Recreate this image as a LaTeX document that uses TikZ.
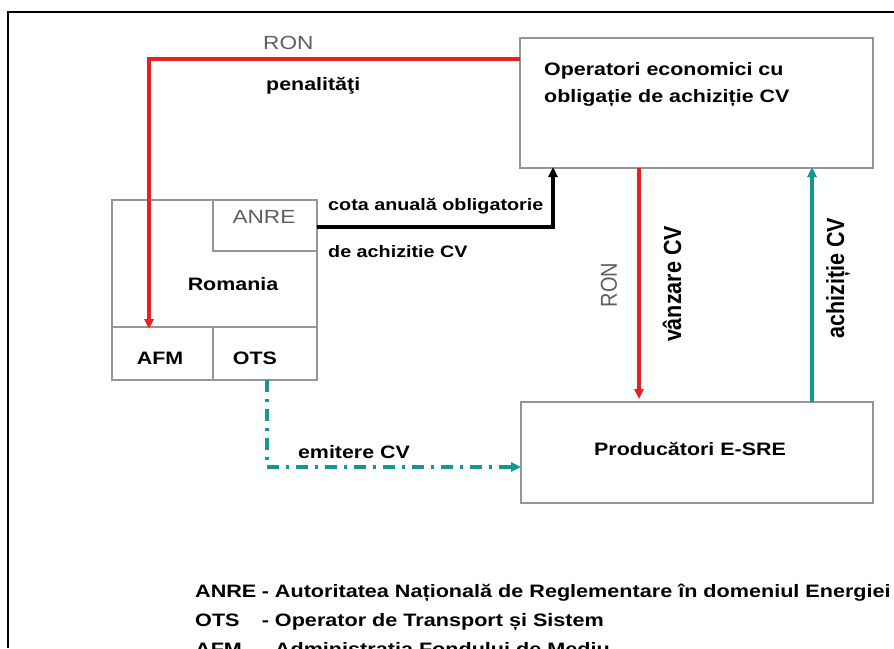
\documentclass[tikz,border=0pt]{standalone}
\usepackage{fontspec}
\usepackage{graphicx}
\setmainfont{Liberation Sans}
\usetikzlibrary{arrows.meta}
\definecolor{ared}{RGB}{232,32,36}
\definecolor{ateal}{RGB}{20,150,150}
\definecolor{boxgray}{RGB}{150,150,150}
\definecolor{txtgray}{RGB}{95,95,95}
\newcommand{\sxx}[1]{\scalebox{1.19}[1]{#1}}
\newcommand{\sxl}[1]{\scalebox{1.2}[1]{#1}}
\newcommand{\syy}[1]{\scalebox{1}[1.15]{#1}}
\newcommand{\abbr}[1]{\makebox[52.5pt][l]{#1}}
\begin{document}
\begin{tikzpicture}[x=1pt,y=-1pt,
  boxnode/.style={draw=boxgray,line width=1.8pt,inner sep=0pt,outer sep=0pt},
  bt/.style={inner sep=0pt,font=\bfseries\fontsize{18}{20}\selectfont},
  lt/.style={inner sep=0pt,font=\bfseries\fontsize{16.6}{20}\selectfont},
  gt/.style={inner sep=0pt,text=txtgray,font=\fontsize{19}{20}\selectfont},
  rbt/.style={inner sep=0pt,rotate=90,font=\bfseries\fontsize{21.5}{22}\selectfont},
  rgt/.style={inner sep=0pt,rotate=90,text=txtgray,font=\fontsize{20}{20}\selectfont},
  legend/.style={inner sep=0pt,anchor=base west,font=\bfseries\fontsize{18}{20}\selectfont},
  redline/.style={draw=ared,line width=3.2pt,-{Triangle[length=10pt,width=9pt]}},
  tealline/.style={draw=ateal,line width=3.2pt,-{Triangle[length=10pt,width=9pt]}},
  blackline/.style={draw=black,line width=3.2pt,-{Triangle[length=10pt,width=9pt]}},
  dashdot/.style={draw=ateal,line width=3.2pt,dash pattern=on 12pt off 7pt on 3pt off 7pt,-{Triangle[length=10pt,width=9pt]}}]
\useasboundingbox (0,0) rectangle (894,648);
\clip (0,0) rectangle (894,648);
\fill[white] (0,0) rectangle (894,648);
% frame
\draw[line width=2.5pt] (8,648) -- (8,12) -- (894,12);
% boxes
\node[boxnode,minimum width=353pt,minimum height=130pt] (op) at (696.5,103) {};
\node[boxnode,minimum width=352pt,minimum height=101pt] (pr) at (697,452.5) {};
\node[boxnode,minimum width=205pt,minimum height=180pt] (ro) at (214.5,290) {};
\node[boxnode,minimum width=104pt,minimum height=51pt] (anre) at (265,225.5) {};
\node[boxnode,minimum width=101pt,minimum height=53pt] (afm) at (162.5,353.5) {};
\node[boxnode,minimum width=104pt,minimum height=53pt] (ots) at (265,353.5) {};
% texts in boxes
\node[bt,anchor=base west] (opt1) at (544,75) {\sxx{Operatori economici cu}};
\node[bt,anchor=base west] (opt2) at (544,102) {\sxx{obligație de achiziție CV}};
\node[bt] (prt) at (690,449) {\sxx{Producători E-SRE}};
\node[gt] (anret) at (264,217) {\sxx{ANRE}};
\node[bt] (rot) at (233,284) {\sxx{Romania}};
\node[bt] (afmt) at (160,358) {\sxx{AFM}};
\node[bt] (otst) at (255,358) {\sxx{OTS}};
% connectors
\coordinate (c1) at (149,59);
\coordinate (c2) at (553,227);
\coordinate (c3) at (639,300);
\coordinate (c4) at (812,300);
\coordinate (c5) at (267,467);
\draw[redline] (op.west |- c1) -- (c1) -- ([yshift=-2pt]afm.north -| c1);
\draw[blackline] (anre.east |- c2) -- (c2) -- ([yshift=1pt]op.south -| c2);
\draw[redline] (op.south -| c3) -- ([yshift=3pt]pr.north -| c3);
\draw[tealline] (pr.north -| c4) -- ([yshift=1pt]op.south -| c4);
\draw[dashdot] (ots.south -| c5) -- (c5) -- (pr.west |- c5);
% connector labels
\node[gt,anchor=base west] (ron1) at (263,49) {\sxx{RON}};
\node[bt,anchor=base west] (pen) at (266,90) {\sxx{penalităţi}};
\node[lt,anchor=base west] (cota1) at (328,210) {\sxx{cota anuală obligatorie}};
\node[lt,anchor=base west] (cota2) at (328,257) {\sxx{de achizitie CV}};
\node[bt] (emit) at (354,452) {\sxx{emitere CV}};
\node[rgt] (ron2) at (609,285) {\syy{RON}};
\node[rbt] (vanz) at (672,284) {\syy{vânzare CV}};
\node[rbt] (achz) at (838,278) {\syy{achiziție CV}};
% legend
\node[legend] (lg1) at (195,597) {\sxl{\abbr{ANRE}\,- Autoritatea Națională de Reglementare în domeniul Energiei}};
\node[legend] (lg2) at (195,626) {\sxl{\abbr{OTS}\,- Operator de Transport și Sistem}};
\node[legend] (lg3) at (195,655) {\sxl{\abbr{AFM}\,- Administrația Fondului de Mediu}};
\end{tikzpicture}
\end{document}
